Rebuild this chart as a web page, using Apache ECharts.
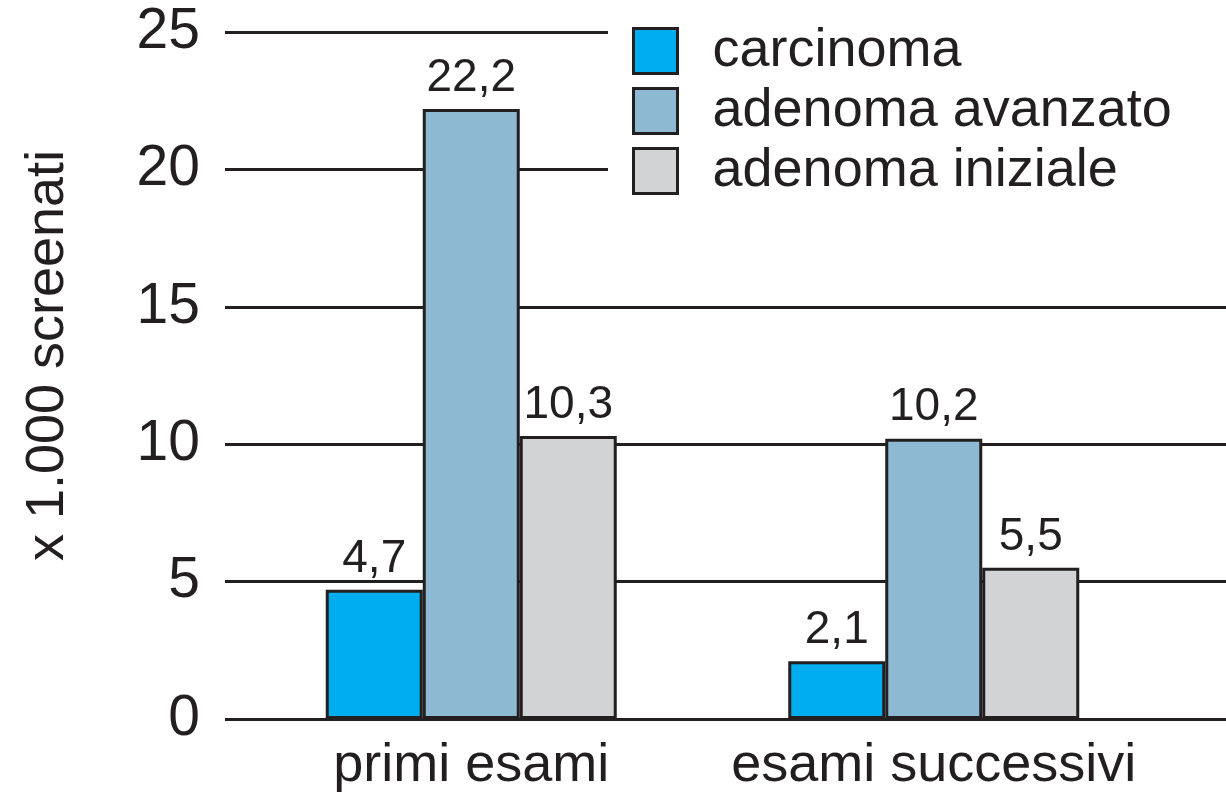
<!DOCTYPE html>
<html>
<head>
<meta charset="utf-8">
<script src="https://cdn.jsdelivr.net/npm/echarts@6/dist/echarts.min.js"></script>
<style>
html,body{margin:0;padding:0;background:#fff;}
#c{width:1226px;height:796px;}
</style>
</head>
<body>
<div id="c"></div>
<script>
const categories = ['primi esami', 'esami successivi'];
const seriesNames = ['carcinoma', 'adenoma avanzato', 'adenoma iniziale'];
const carcinoma = [4.7, 2.1];
const adenomaAvanzato = [22.2, 10.2];
const adenomaIniziale = [10.3, 5.5];
const yTicks = [0, 5, 10, 15, 20, 25];
const yTitle = 'x 1.000 screenati';
const colors = ['#00AEEF', '#8DBAD2', '#D1D3D4'];

const ink = '#231F20';
const font = 'Liberation Sans, Arial, sans-serif';
const valuesList = [carcinoma, adenomaAvanzato, adenomaIniziale];

const chart = echarts.init(document.getElementById('c'), null, {renderer: 'canvas'});
chart.setOption({
  animation: false,
  backgroundColor: '#fff',
  textStyle: {fontFamily: font, color: ink},
  legend: {
    orient: 'vertical',
    left: 608,
    top: 0,
    padding: [24, 80, 8, 24],
    backgroundColor: '#fff',
    itemWidth: 44,
    itemHeight: 45,
    itemGap: 6,
    icon: 'rect',
    z: 10,
    textStyle: {fontSize: 54, color: ink, fontFamily: font, padding: [0, 0, 0, 30]},
    itemStyle: {borderColor: ink, borderWidth: 3},
    data: seriesNames
  },
  grid: [
    {left: 240, right: 61, top: 32, bottom: 77, containLabel: false},
    {left: 225, right: 0, top: 32, bottom: 77, containLabel: false}
  ],
  xAxis: [
    {
      type: 'category', gridIndex: 0, data: categories,
      axisLine: {show: false}, axisTick: {show: false},
      axisLabel: {interval: 0, fontSize: 54, color: ink, fontFamily: font, margin: 20}
    },
    {
      type: 'value', gridIndex: 1, show: false, min: 0, max: 1
    }
  ],
  yAxis: [
    {
      type: 'value', gridIndex: 0, min: yTicks[0], max: yTicks[yTicks.length - 1], interval: 5,
      show: false
    },
    {
      type: 'value', gridIndex: 1, min: yTicks[0], max: yTicks[yTicks.length - 1], interval: 5,
      axisLine: {show: false}, axisTick: {show: false},
      axisLabel: {fontSize: 57, color: ink, fontFamily: font, margin: 25},
      splitLine: {show: true, lineStyle: {color: ink, width: 3}},
      name: yTitle, nameLocation: 'middle', nameGap: 150, nameRotate: 90,
      nameTextStyle: {fontSize: 54, color: ink, fontFamily: font, padding: [0, 0, 0, 40]}
    }
  ],
  series: seriesNames.map((name, i) => ({
    name: name,
    type: 'bar',
    xAxisIndex: 0,
    yAxisIndex: 0,
    data: valuesList[i],
    barWidth: 97,
    barGap: '0%',
    itemStyle: {color: colors[i], borderColor: ink, borderWidth: 3},
    label: {
      show: true, position: 'top', distance: 8,
      fontSize: 46, color: ink, fontFamily: font,
      formatter: p => p.value.toFixed(1).replace('.', ',')
    }
  }))
});
</script>
</body>
</html>
